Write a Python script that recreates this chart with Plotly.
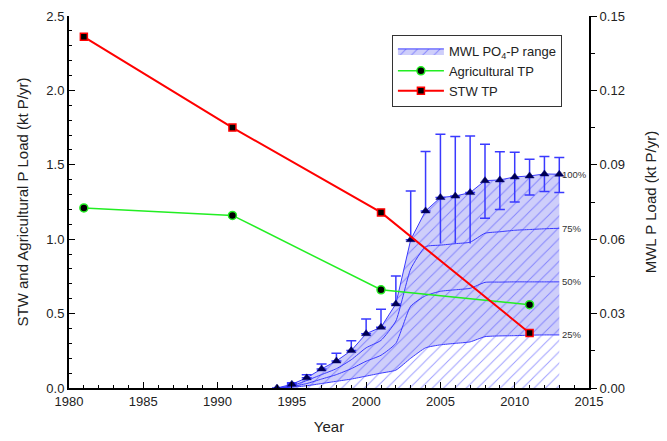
import plotly.graph_objects as go

# ---------------- data ----------------
stw_years = [1981, 1991, 2001, 2011]
stw_tp = [2.36, 1.75, 1.18, 0.37]

ag_years = [1981, 1991, 2001, 2011]
ag_tp = [1.21, 1.16, 0.66, 0.56]

mwl_years = list(range(1994, 2014))
# MWL PO4-P load (kt P/yr), right axis
mwl_p100 = [0, 0.0015, 0.0041, 0.0077, 0.0109, 0.0151, 0.0219, 0.0245, 0.0339, 0.0598,
            0.0714, 0.0768, 0.0774, 0.0788, 0.0836, 0.0839, 0.0851, 0.0855, 0.0863, 0.0862]
mwl_p75 = [0, 0.0009, 0.0030, 0.0054, 0.0078, 0.0114, 0.0162, 0.0192, 0.0270, 0.0480,
           0.0570, 0.0576, 0.0582, 0.0588, 0.0624, 0.0630, 0.0636, 0.0639, 0.0642, 0.0644]
mwl_p50 = [0, 0.0006, 0.0018, 0.0036, 0.0054, 0.0078, 0.0108, 0.0132, 0.0180, 0.0330,
           0.0372, 0.0390, 0.0396, 0.0402, 0.0426, 0.0427, 0.0428, 0.0428, 0.0428, 0.0428]
mwl_p25 = [0, 0.0003, 0.0009, 0.0018, 0.0027, 0.0036, 0.0048, 0.0060, 0.0072, 0.0120,
           0.0162, 0.0174, 0.0180, 0.0186, 0.0207, 0.0210, 0.0211, 0.0213, 0.0214, 0.0214]
err_plus = [0, 0.0006, 0.0012, 0.0020, 0.0031, 0.0040, 0.0059, 0.0073, 0.0113, 0.0196,
            0.0240, 0.0255, 0.0240, 0.0228, 0.0147, 0.0114, 0.0100, 0.0067, 0.0070, 0.0067]
err_minus = [0, 0, 0, 0, 0, 0, 0, 0, 0, 0,
             0, 0, 0, 0, 0.0152, 0.0119, 0.0101, 0.0077, 0.0071, 0.0074]
err_minus_nocap = [0, 0, 0, 0, 0, 0, 0, 0, 0, 0,
                   0, 0.0185, 0.0191, 0.0205, 0, 0, 0, 0, 0, 0]
pct_labels = ["100%", "75%", "50%", "25%"]

BLUE = "#3a3aff"
FONT = "Liberation Sans, Arial, sans-serif"

fig = go.Figure()

# lower band (0-25%): hatch on white
fig.add_trace(go.Scatter(
    x=mwl_years, y=mwl_p25, mode="lines", yaxis="y",
    line=dict(color=BLUE, width=1, shape="spline", smoothing=0.5),
    fill="tozeroy", fillcolor="rgba(255,255,255,0)",
    fillpattern=dict(shape="/", fgcolor=BLUE, bgcolor="rgba(255,255,255,0)", size=8, solidity=0.12),
    showlegend=False, hoverinfo="skip"))

# upper band (25-100%): light blue + hatch
fig.add_trace(go.Scatter(
    x=mwl_years, y=mwl_p100, mode="lines", yaxis="y",
    line=dict(color=BLUE, width=1),
    fill="tonexty", fillcolor="rgba(200,200,248,0.9)",
    fillpattern=dict(shape="/", fgcolor=BLUE, bgcolor="rgba(206,206,250,1)", size=8, solidity=0.12),
    name="MWL PO<sub>4</sub>-P range", showlegend=True))

for vals in (mwl_p50, mwl_p75):
    fig.add_trace(go.Scatter(
        x=mwl_years, y=vals, mode="lines", yaxis="y",
        line=dict(color=BLUE, width=1, shape="spline", smoothing=0.5),
        showlegend=False, hoverinfo="skip"))

# lower uncapped whiskers
fig.add_trace(go.Scatter(
    x=mwl_years, y=mwl_p100, mode="markers", yaxis="y",
    marker=dict(size=1, color="rgba(0,0,0,0)"),
    error_y=dict(type="data", symmetric=False, array=[0] * len(mwl_years),
                 arrayminus=err_minus_nocap, color=BLUE, thickness=1.5, width=0),
    showlegend=False, hoverinfo="skip"))

# triangles with error bars
fig.add_trace(go.Scatter(
    x=mwl_years, y=mwl_p100, mode="markers", yaxis="y",
    marker=dict(symbol="triangle-up", size=8, color="#000050",
                line=dict(color="#000080", width=0.5)),
    error_y=dict(type="data", symmetric=False, array=err_plus, arrayminus=err_minus,
                 color=BLUE, thickness=1.5, width=5),
    showlegend=False))

fig.add_trace(go.Scatter(
    x=ag_years, y=ag_tp, mode="lines+markers", yaxis="y2",
    name="Agricultural TP",
    line=dict(color="#22ee22", width=1.5),
    marker=dict(symbol="circle", size=8, color="black", line=dict(color="#22ee22", width=1.5))))

fig.add_trace(go.Scatter(
    x=stw_years, y=stw_tp, mode="lines+markers", yaxis="y2",
    name="STW TP",
    line=dict(color="#ff0000", width=2),
    marker=dict(symbol="square", size=7, color="black", line=dict(color="#ff0000", width=1.5))))

for lab, vals in zip(pct_labels, (mwl_p100, mwl_p75, mwl_p50, mwl_p25)):
    fig.add_annotation(x=mwl_years[-1], y=vals[-1], xref="x", yref="y",
                       text=lab, showarrow=False, xanchor="left", xshift=1,
                       font=dict(size=9.5, color="#333333", family=FONT))

# page body has an 8px default margin: size the figure so the plot lands where the reference has it
fig.update_layout(
    width=659, height=433,
    margin=dict(l=61, r=78, t=8, b=53, autoexpand=False),
    paper_bgcolor="white", plot_bgcolor="white",
    font=dict(family=FONT, size=13, color="#222222"),
    xaxis=dict(range=[1980, 2015], dtick=5, tick0=1980, showgrid=False, zeroline=False,
               showline=True, linecolor="black", linewidth=2, automargin=False,
               ticks="inside", ticklen=6, tickcolor="black",
               minor=dict(dtick=1, ticks="inside", ticklen=3, tickcolor="black"),
               title=dict(text="Year", font=dict(size=15), standoff=14)),
    yaxis=dict(side="right", range=[0, 0.15], dtick=0.03, tickformat=".2f",
               showgrid=False, zeroline=False, showline=True, linecolor="black", linewidth=2,
               automargin=False,
               ticks="outside", ticklen=6, tickcolor="black",
               minor=dict(dtick=0.015, ticks="outside", ticklen=4, tickcolor="black"),
               title=dict(text="MWL P Load (kt P/yr)", font=dict(size=15), standoff=22)),
    yaxis2=dict(side="left", overlaying="y", range=[0, 2.5], dtick=0.5, tickformat=".1f",
                showgrid=False, zeroline=False, showline=True, linecolor="black", linewidth=2,
                automargin=False,
                ticks="inside", ticklen=6, tickcolor="black",
                minor=dict(dtick=0.1, ticks="inside", ticklen=3, tickcolor="black"),
                title=dict(text="STW and Agricultural P Load (kt P/yr)", font=dict(size=15), standoff=14)),
    legend=dict(x=0.621, y=0.949, xanchor="left", yanchor="top", traceorder="normal",
                bordercolor="#333333", borderwidth=1, bgcolor="white",
                font=dict(size=13), itemwidth=46, tracegroupgap=0),
    showlegend=True,
)

fig.write_html("out.html")
